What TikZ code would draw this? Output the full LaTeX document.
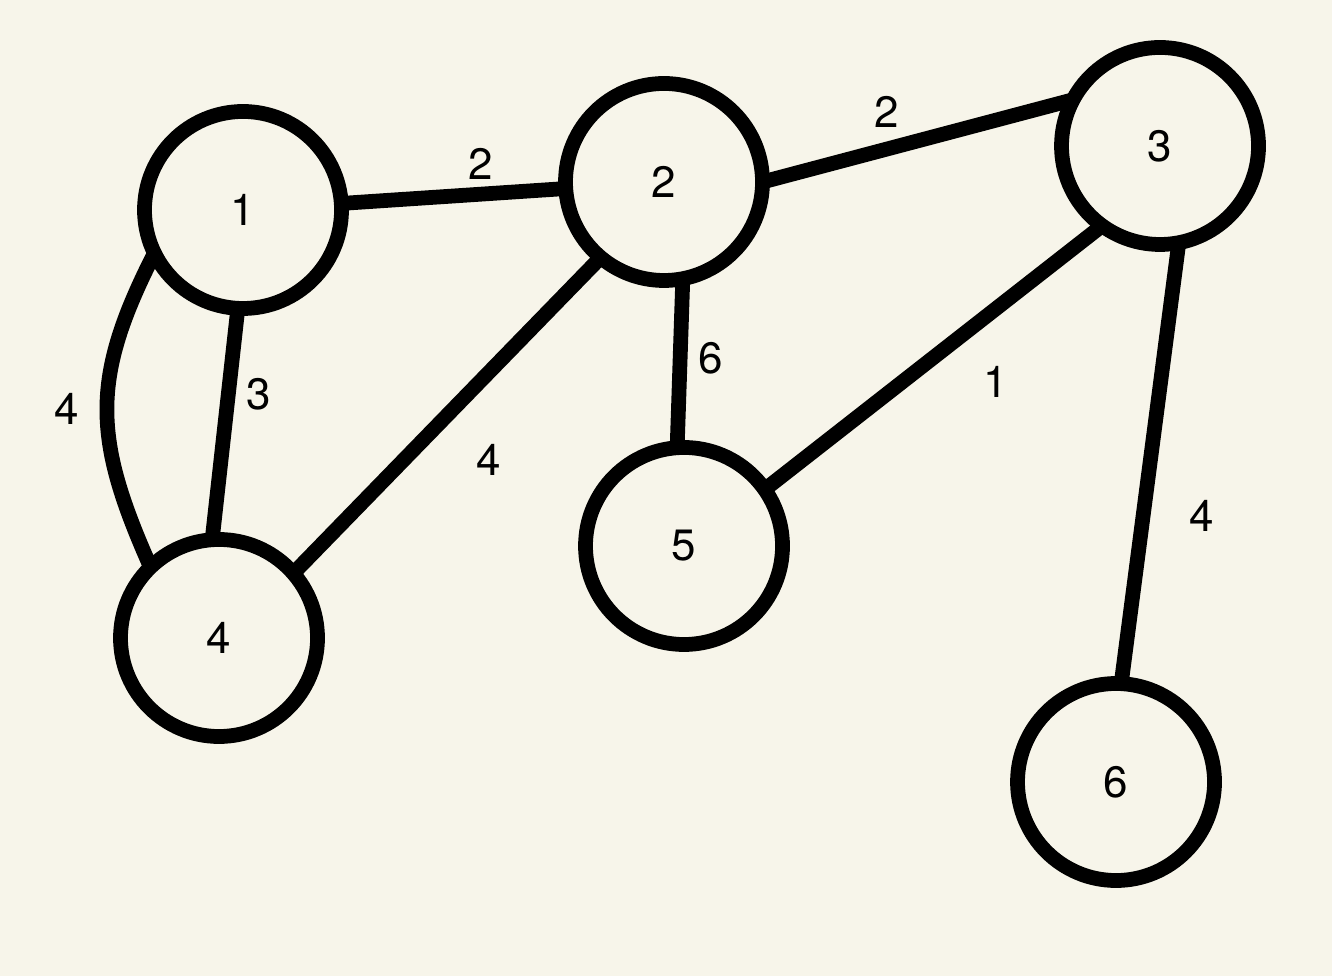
\documentclass[tikz,border=0pt]{standalone}
\usepackage{fontspec}
\setmainfont{TeX Gyre Heros}
\usepackage{xcolor}
\usepackage{tikz}
\usetikzlibrary{positioning, backgrounds}

\definecolor{paper}{HTML}{F7F5EA}

\begin{document}
\begin{tikzpicture}[
    vertex/.style={draw, circle, line width=4.2pt, minimum size=1.97cm, inner sep=0pt, outer sep=0pt, font=\fontsize{12.5}{15}\selectfont},
    edge/.style={line width=4.2pt},
    wt/.style={font=\fontsize{12.5}{15}\selectfont, inner sep=2pt},
]

\fill[paper] (0,0) rectangle (13.32,9.76);
\useasboundingbox (0,0) rectangle (13.32,9.76);

\node[vertex] (n1) at (2.43,7.66) {1};
\node[vertex] (n2) at (6.64,7.94) {2};
\node[vertex] (n3) at (11.60,8.30) {3};
\node[vertex] (n4) at (2.19,3.38) {4};
\node[vertex] (n5) at (6.84,4.30) {5};
\node[vertex] (n6) at (11.16,1.94) {6};

\draw[edge] (n1) -- node[wt, pos=.62, above] {2} (n2);
\draw[edge] (n2.east) -- node[wt, pos=.4, above=2pt] {2} (n3.152);
\draw[edge] (n1.267) -- node[wt, pos=.37, right=1pt] {3} (n4.94);
\draw[edge] (n1.206) to[out=243, in=114, looseness=1.15] node[wt, pos=.5, left=4pt] {4} (n4.134);
\draw[edge] (n2.230) -- node[wt, pos=.5, below right=6pt] {4} (n4.41);
\draw[edge] (n2.281) -- node[wt, pos=.47, right=1pt] {6} (n5.94);
\draw[edge] (n3.234) -- node[wt, pos=.43, below right=5pt] {1} (n5.35);
\draw[edge] (n3.281) -- node[wt, pos=.62, right=9pt] {4} (n6.87);

\end{tikzpicture}
\end{document}
